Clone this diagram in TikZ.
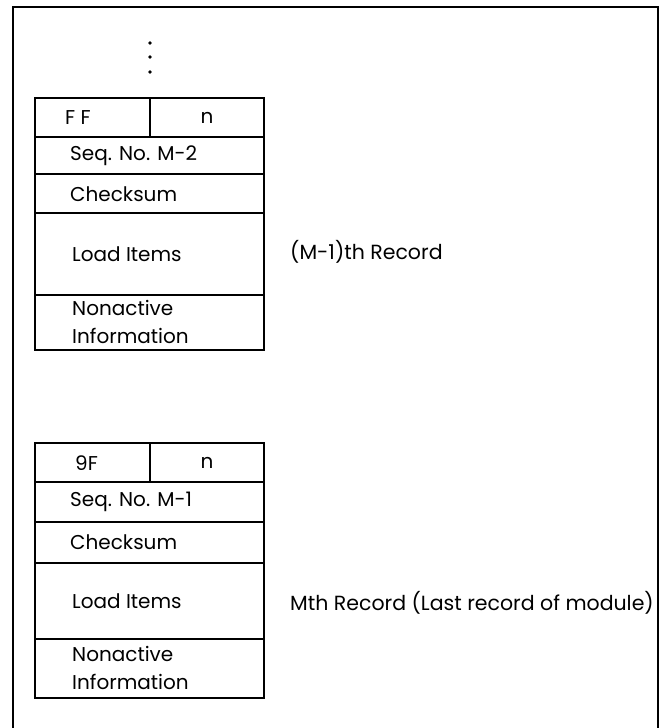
\documentclass[tikz,border=0pt]{standalone}
\usepackage{fontspec}
\setmainfont{Poppins}
\begin{document}
\begin{tikzpicture}[x=1pt,y=-1pt,
  frame/.style={line width=2.6pt},
  boxout/.style={line width=2pt},
  boxin/.style={line width=1.2pt},
  cell/.style={anchor=west,inner sep=0pt,font=\fontsize{20}{28}\selectfont},
  lbl/.style={anchor=west,inner sep=0pt,font=\fontsize{20.5}{24}\selectfont}]
\useasboundingbox (0,0) rectangle (668,728);
% outer frame (open at the bottom)
\draw[frame] (13,730) -- (13,7) -- (658,7) -- (658,730);
% dots
\foreach \yy in {43,57,72} \fill (150,\yy) circle (1.9);
% ---- block 1 ----
\draw[boxin] (35,137) -- (264,137) (35,174) -- (264,174) (35,213) -- (264,213) (35,295) -- (264,295)
  (150,98) -- (150,137);
\draw[boxout] (35,98) rectangle (264,350);
\node[cell] (ff) at (65,118) {F F};
\node[cell,anchor=center] (n1) at (207,118) {n};
\node[cell] (seq1) at (70,156) {Seq. No. M-2};
\node[cell] (cks1) at (70,194) {Checksum};
\node[cell] (load1) at (72,254) {Load Items};
\node[cell,align=left] (non1) at (72,322) {Nonactive\\Information};
\node[lbl] (rec1) at (290,252) {(M-1)th Record};
% ---- block 2 ----
\draw[boxin] (35,482) -- (264,482) (35,522) -- (264,522) (35,563) -- (264,563) (35,639) -- (264,639)
  (150,443) -- (150,482);
\draw[boxout] (35,443) rectangle (264,698);
\node[cell] (nf) at (75,463) {9F};
\node[cell,anchor=center] (n2) at (207,463) {n};
\node[cell] (seq2) at (70,502) {Seq. No. M-1};
\node[cell] (cks2) at (70,542) {Checksum};
\node[cell] (load2) at (72,601) {Load Items};
\node[cell,align=left] (non2) at (72,668) {Nonactive\\Information};
\node[lbl] (rec2) at (290,603) {Mth Record (Last record of module)};
\end{tikzpicture}
\end{document}
